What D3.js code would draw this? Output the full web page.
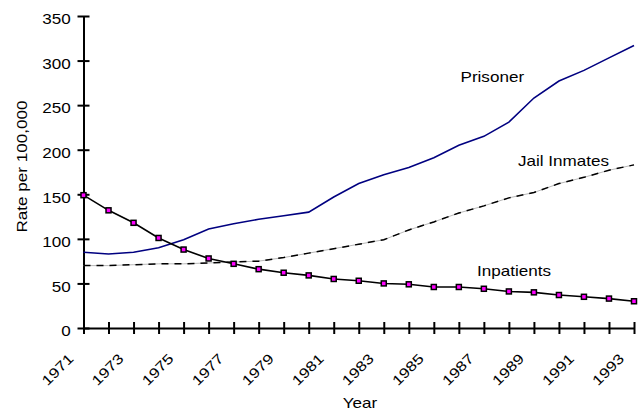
<!DOCTYPE html>
<html>
<head>
<meta charset="utf-8">
<script src="https://cdn.jsdelivr.net/npm/d3@7"></script>
<style>
  html, body { margin: 0; padding: 0; background: #fff; }
  text { font-family: "Liberation Sans", Arial, sans-serif; font-size: 14px; fill: #000; }
</style>
</head>
<body>
<svg id="chart" width="638" height="412"></svg>
<script>
const years = d3.range(1971, 1994);
const yTicks = [0, 50, 100, 150, 200, 250, 300, 350];
const xLabelYears = [1971, 1973, 1975, 1977, 1979, 1981, 1983, 1985, 1987, 1989, 1991, 1993];

const prisoner = [85, 83, 85, 90, 99, 111, 117, 122, 126, 130, 147, 162, 172, 180, 191, 205, 215, 231, 258, 277, 289, 303, 317];
const jailInmates = [70, 70, 71, 72, 72, 73, 74, 75, 79, 84, 89, 94, 99, 110, 119, 129, 137, 146, 152, 162, 169, 177, 183];
const inpatients = [149, 132, 118, 101, 88, 78, 72, 66, 62, 59, 55, 53, 50, 49, 46, 46, 44, 41, 40, 37, 35, 33, 30];

const seriesLabels = [
  { name: "Prisoner", x: 460.5, y: 82 },
  { name: "Jail Inmates", x: 518, y: 166 },
  { name: "Inpatients", x: 477, y: 276 }
];

const SX = 1.22;
const svg = d3.select("#chart");
const x = d3.scalePoint().domain(years).range([83.5, 634]);
const y = d3.scaleLinear().domain([0, 350]).range([328, 16]);

// Axes
const gx = svg.append("g").attr("transform", `translate(0,${y(0)})`)
  .call(d3.axisBottom(x).tickValues(years).tickSizeOuter(0)
    .tickFormat(d => xLabelYears.includes(d) ? String(d) : ""));
gx.select(".domain").attr("stroke", "#000").attr("stroke-width", 2);
gx.selectAll(".tick line").attr("stroke", "#000").attr("stroke-width", 2).attr("y1", -6).attr("y2", 6);
gx.selectAll(".tick text")
  .attr("y", null).attr("dy", null)
  .attr("text-anchor", "middle")
  .attr("transform", `translate(-23,45) rotate(-45) scale(${SX},1)`)
  .style("font-size", "14px").style("font-family", '"Liberation Sans", Arial, sans-serif').attr("fill", "#000");

const gy = svg.append("g").attr("transform", `translate(${x(1971)},0)`)
  .call(d3.axisLeft(y).tickValues(yTicks).tickSizeOuter(0));
gy.select(".domain").attr("stroke", "#000").attr("stroke-width", 2);
gy.selectAll(".tick line").attr("stroke", "#000").attr("stroke-width", 2).attr("x1", -6).attr("x2", 6);
gy.selectAll(".tick text")
  .attr("x", null).attr("dy", null)
  .attr("text-anchor", "end")
  .attr("transform", `translate(-12.8,7.8) scale(${SX},1)`)
  .style("font-size", "14px").style("font-family", '"Liberation Sans", Arial, sans-serif').attr("fill", "#000");

// Axis titles
svg.append("text").attr("text-anchor", "middle")
  .attr("transform", `translate(360,408) scale(${SX},1)`).text("Year");
svg.append("text").attr("text-anchor", "middle")
  .attr("transform", `translate(27,166.5) rotate(-90) scale(${SX},1)`).text("Rate per 100,000");

const line = d3.line().x((d, i) => x(years[i])).y(d => y(d));

// Jail inmates (dashed)
svg.append("path").datum(jailInmates).attr("d", line)
  .attr("fill", "none").attr("stroke", "#b8b8b8").attr("stroke-width", 1);
svg.append("path").datum(jailInmates).attr("d", line)
  .attr("fill", "none").attr("stroke", "#000").attr("stroke-width", 1.5)
  .attr("stroke-dasharray", "7,6");

// Prisoner
svg.append("path").datum(prisoner).attr("d", line)
  .attr("fill", "none").attr("stroke", "#000080").attr("stroke-width", 1.6);

// Inpatients
svg.append("path").datum(inpatients).attr("d", line)
  .attr("fill", "none").attr("stroke", "#000").attr("stroke-width", 1.6);
svg.append("g").selectAll("rect").data(inpatients).join("rect")
  .attr("x", (d, i) => x(years[i]) - 2.5)
  .attr("y", d => y(d) - 2.5)
  .attr("width", 5).attr("height", 5)
  .attr("fill", "#ff00ff").attr("stroke", "#000").attr("stroke-width", 1.5);

// Series labels
svg.append("g").selectAll("text").data(seriesLabels).join("text")
  .attr("transform", d => `translate(${d.x},${d.y}) scale(${SX},1)`)
  .text(d => d.name);
</script>
</body>
</html>
